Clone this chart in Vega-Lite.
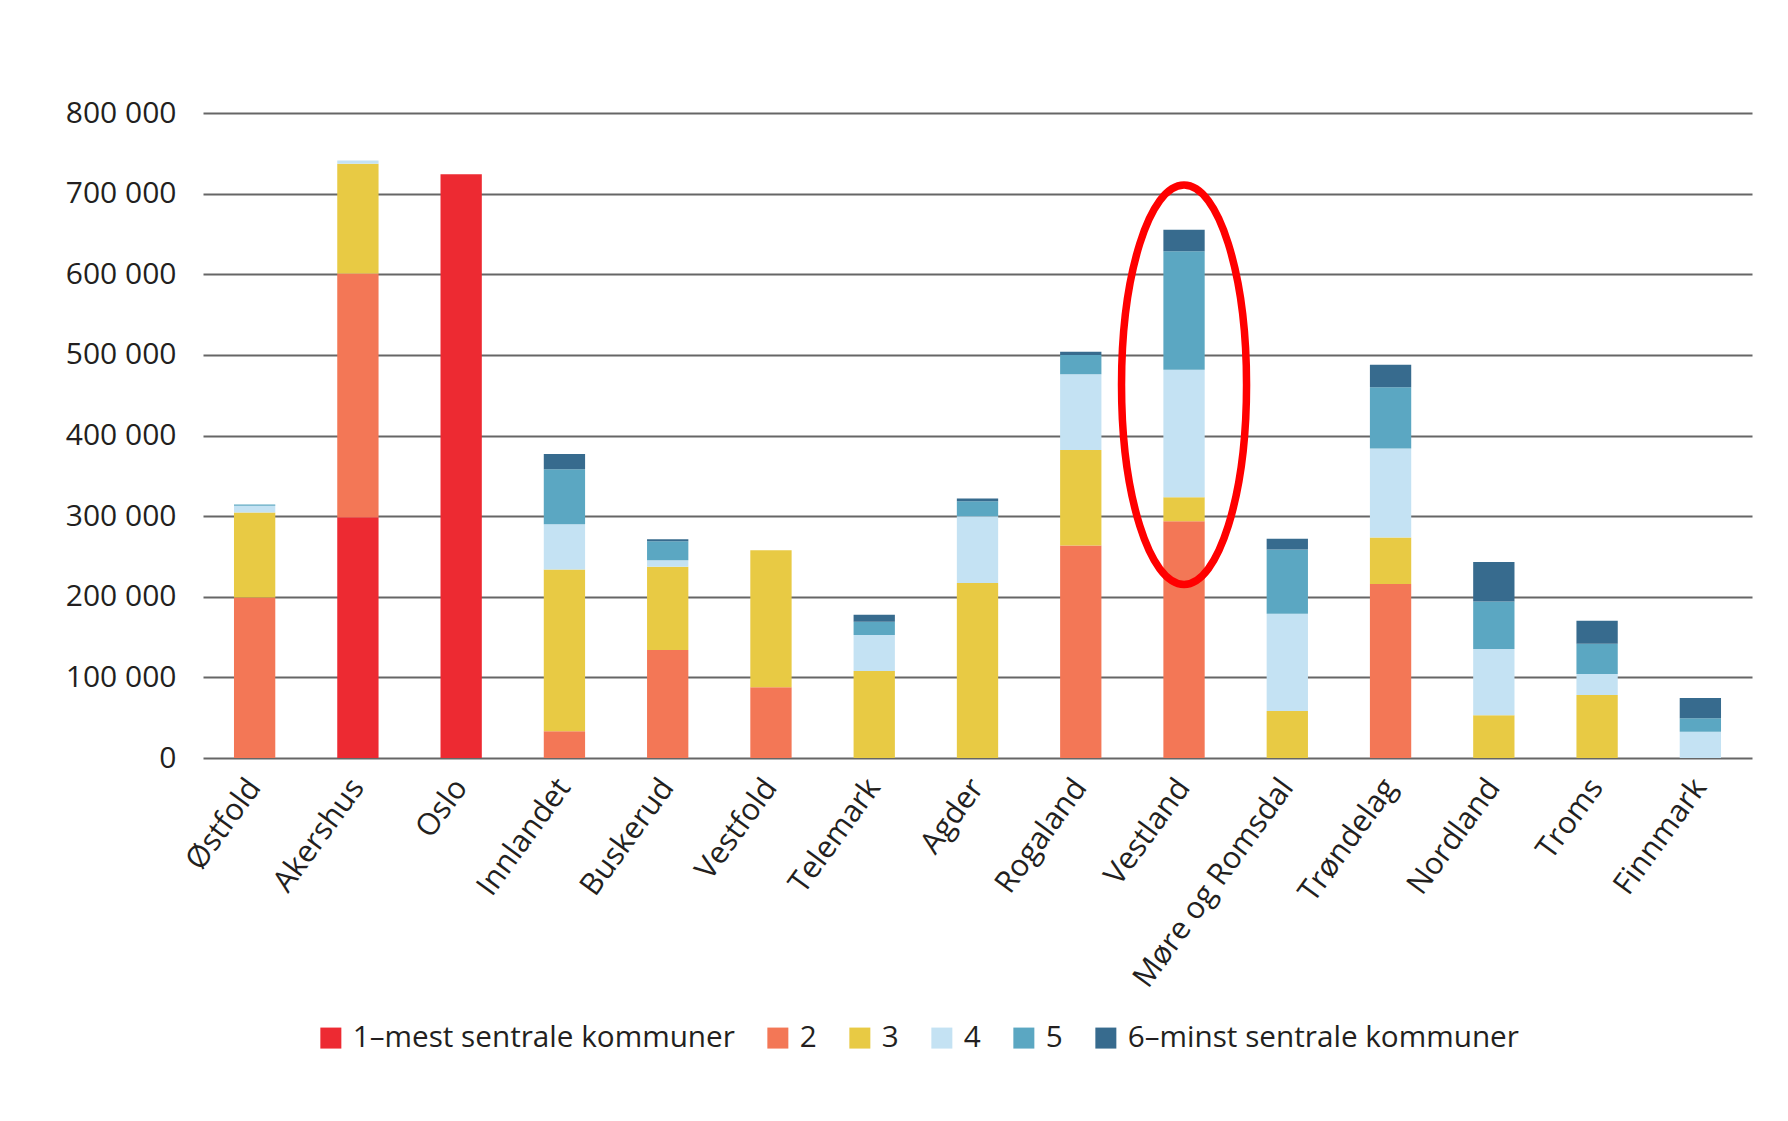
{
  "$schema": "https://vega.github.io/schema/vega-lite/v6.json",
  "width": 1549,
  "height": 645,
  "autosize": {"type": "none"},
  "padding": {"left": 203, "top": 113, "right": 36, "bottom": 363},
  "background": "white",
  "config": {"view": {"stroke": null}, "font": "Open Sans"},
  "datasets": {
    "ellipse": [{"fylke": "Vestland", "midt": 463000}]
  },
  "data": {
    "values": [
      {"fylke": "Østfold", "k": 2, "sentralitet": "2", "verdi": 199000},
      {"fylke": "Østfold", "k": 3, "sentralitet": "3", "verdi": 105500},
      {"fylke": "Østfold", "k": 4, "sentralitet": "4", "verdi": 8500},
      {"fylke": "Østfold", "k": 5, "sentralitet": "5", "verdi": 1500},
      {"fylke": "Akershus", "k": 1, "sentralitet": "1–mest sentrale kommuner", "verdi": 298500},
      {"fylke": "Akershus", "k": 2, "sentralitet": "2", "verdi": 302500},
      {"fylke": "Akershus", "k": 3, "sentralitet": "3", "verdi": 136000},
      {"fylke": "Akershus", "k": 4, "sentralitet": "4", "verdi": 4000},
      {"fylke": "Oslo", "k": 1, "sentralitet": "1–mest sentrale kommuner", "verdi": 724000},
      {"fylke": "Innlandet", "k": 2, "sentralitet": "2", "verdi": 33300},
      {"fylke": "Innlandet", "k": 3, "sentralitet": "3", "verdi": 200500},
      {"fylke": "Innlandet", "k": 4, "sentralitet": "4", "verdi": 56200},
      {"fylke": "Innlandet", "k": 5, "sentralitet": "5", "verdi": 68000},
      {"fylke": "Innlandet", "k": 6, "sentralitet": "6–minst sentrale kommuner", "verdi": 19000},
      {"fylke": "Buskerud", "k": 2, "sentralitet": "2", "verdi": 133800},
      {"fylke": "Buskerud", "k": 3, "sentralitet": "3", "verdi": 103500},
      {"fylke": "Buskerud", "k": 4, "sentralitet": "4", "verdi": 8000},
      {"fylke": "Buskerud", "k": 5, "sentralitet": "5", "verdi": 23400},
      {"fylke": "Buskerud", "k": 6, "sentralitet": "6–minst sentrale kommuner", "verdi": 2500},
      {"fylke": "Vestfold", "k": 2, "sentralitet": "2", "verdi": 87600},
      {"fylke": "Vestfold", "k": 3, "sentralitet": "3", "verdi": 170100},
      {"fylke": "Telemark", "k": 3, "sentralitet": "3", "verdi": 108000},
      {"fylke": "Telemark", "k": 4, "sentralitet": "4", "verdi": 44700},
      {"fylke": "Telemark", "k": 5, "sentralitet": "5", "verdi": 16300},
      {"fylke": "Telemark", "k": 6, "sentralitet": "6–minst sentrale kommuner", "verdi": 8600},
      {"fylke": "Agder", "k": 3, "sentralitet": "3", "verdi": 217000},
      {"fylke": "Agder", "k": 4, "sentralitet": "4", "verdi": 83000},
      {"fylke": "Agder", "k": 5, "sentralitet": "5", "verdi": 18400},
      {"fylke": "Agder", "k": 6, "sentralitet": "6–minst sentrale kommuner", "verdi": 3600},
      {"fylke": "Rogaland", "k": 2, "sentralitet": "2", "verdi": 263700},
      {"fylke": "Rogaland", "k": 3, "sentralitet": "3", "verdi": 118300},
      {"fylke": "Rogaland", "k": 4, "sentralitet": "4", "verdi": 94000},
      {"fylke": "Rogaland", "k": 5, "sentralitet": "5", "verdi": 24000},
      {"fylke": "Rogaland", "k": 6, "sentralitet": "6–minst sentrale kommuner", "verdi": 4000},
      {"fylke": "Vestland", "k": 2, "sentralitet": "2", "verdi": 293500},
      {"fylke": "Vestland", "k": 3, "sentralitet": "3", "verdi": 29900},
      {"fylke": "Vestland", "k": 4, "sentralitet": "4", "verdi": 158200},
      {"fylke": "Vestland", "k": 5, "sentralitet": "5", "verdi": 146800},
      {"fylke": "Vestland", "k": 6, "sentralitet": "6–minst sentrale kommuner", "verdi": 26800},
      {"fylke": "Møre og Romsdal", "k": 3, "sentralitet": "3", "verdi": 58300},
      {"fylke": "Møre og Romsdal", "k": 4, "sentralitet": "4", "verdi": 120700},
      {"fylke": "Møre og Romsdal", "k": 5, "sentralitet": "5", "verdi": 79500},
      {"fylke": "Møre og Romsdal", "k": 6, "sentralitet": "6–minst sentrale kommuner", "verdi": 13500},
      {"fylke": "Trøndelag", "k": 2, "sentralitet": "2", "verdi": 215700},
      {"fylke": "Trøndelag", "k": 3, "sentralitet": "3", "verdi": 57900},
      {"fylke": "Trøndelag", "k": 4, "sentralitet": "4", "verdi": 110300},
      {"fylke": "Trøndelag", "k": 5, "sentralitet": "5", "verdi": 76000},
      {"fylke": "Trøndelag", "k": 6, "sentralitet": "6–minst sentrale kommuner", "verdi": 27700},
      {"fylke": "Nordland", "k": 3, "sentralitet": "3", "verdi": 52900},
      {"fylke": "Nordland", "k": 4, "sentralitet": "4", "verdi": 82200},
      {"fylke": "Nordland", "k": 5, "sentralitet": "5", "verdi": 59100},
      {"fylke": "Nordland", "k": 6, "sentralitet": "6–minst sentrale kommuner", "verdi": 48800},
      {"fylke": "Troms", "k": 3, "sentralitet": "3", "verdi": 78100},
      {"fylke": "Troms", "k": 4, "sentralitet": "4", "verdi": 26000},
      {"fylke": "Troms", "k": 5, "sentralitet": "5", "verdi": 37600},
      {"fylke": "Troms", "k": 6, "sentralitet": "6–minst sentrale kommuner", "verdi": 28500},
      {"fylke": "Finnmark", "k": 4, "sentralitet": "4", "verdi": 32600},
      {"fylke": "Finnmark", "k": 5, "sentralitet": "5", "verdi": 16600},
      {"fylke": "Finnmark", "k": 6, "sentralitet": "6–minst sentrale kommuner", "verdi": 25200}
    ]
  },
  "layer": [
    {
      "mark": {"type": "bar"},
      "encoding": {
        "x": {
          "field": "fylke",
          "type": "nominal",
          "sort": ["Østfold", "Akershus", "Oslo", "Innlandet", "Buskerud", "Vestfold", "Telemark", "Agder", "Rogaland", "Vestland", "Møre og Romsdal", "Trøndelag", "Nordland", "Troms", "Finnmark"],
          "scale": {"paddingInner": 0.6, "paddingOuter": 0.3},
          "axis": {
            "title": null,
            "domain": false,
            "ticks": false,
            "labelAngle": -54,
            "labelAlign": "right",
            "labelBaseline": "middle",
            "labelFont": "Open Sans",
            "labelFontSize": 30.5,
            "labelColor": "#231F20",
            "labelPadding": 24,
            "labelLimit": 0
          }
        },
        "y": {
          "field": "verdi",
          "type": "quantitative",
          "stack": "zero",
          "scale": {"domain": [0, 800000], "nice": false},
          "axis": {
            "title": null,
            "values": [0, 100000, 200000, 300000, 400000, 500000, 600000, 700000, 800000],
            "domain": false,
            "ticks": false,
            "grid": true,
            "gridColor": "#666666",
            "gridWidth": 2,
            "labelFont": "Open Sans",
            "labelFontSize": 30,
            "labelColor": "#231F20",
            "labelPadding": 27,
            "labelExpr": "replace(format(datum.value, ','), ',', ' ')"
          }
        },
        "color": {
          "field": "sentralitet",
          "type": "nominal",
          "scale": {
            "domain": ["1–mest sentrale kommuner", "2", "3", "4", "5", "6–minst sentrale kommuner"],
            "range": ["#ED2A32", "#F37756", "#E8CA44", "#C4E2F3", "#5BA7C2", "#376B8E"]
          },
          "legend": {
            "title": null,
            "orient": "none",
            "legendX": 113,
            "legendY": 910,
            "direction": "horizontal",
            "symbolType": "square",
            "symbolSize": 441,
            "symbolStrokeWidth": 0,
            "labelFont": "Open Sans",
            "labelFontSize": 29.7,
            "labelColor": "#231F20",
            "labelOffset": 7,
            "labelLimit": 0,
            "columnPadding": 28,
            "padding": 0
          }
        },
        "order": {"field": "k", "type": "quantitative"}
      }
    },
    {
      "data": {"name": "ellipse"},
      "mark": {
        "type": "point",
        "shape": "M0,-1C0.1729,-1,0.313,-0.5523,0.313,0C0.313,0.5523,0.1729,1,0,1C-0.1729,1,-0.313,0.5523,-0.313,0C-0.313,-0.5523,-0.1729,-1,0,-1Z",
        "filled": false,
        "stroke": "#FF0000",
        "strokeWidth": 7.5,
        "opacity": 1,
        "size": 159520
      },
      "encoding": {
        "x": {"field": "fylke", "type": "nominal", "sort": ["Østfold", "Akershus", "Oslo", "Innlandet", "Buskerud", "Vestfold", "Telemark", "Agder", "Rogaland", "Vestland", "Møre og Romsdal", "Trøndelag", "Nordland", "Troms", "Finnmark"]},
        "y": {"field": "midt", "type": "quantitative"}
      }
    }
  ]
}
